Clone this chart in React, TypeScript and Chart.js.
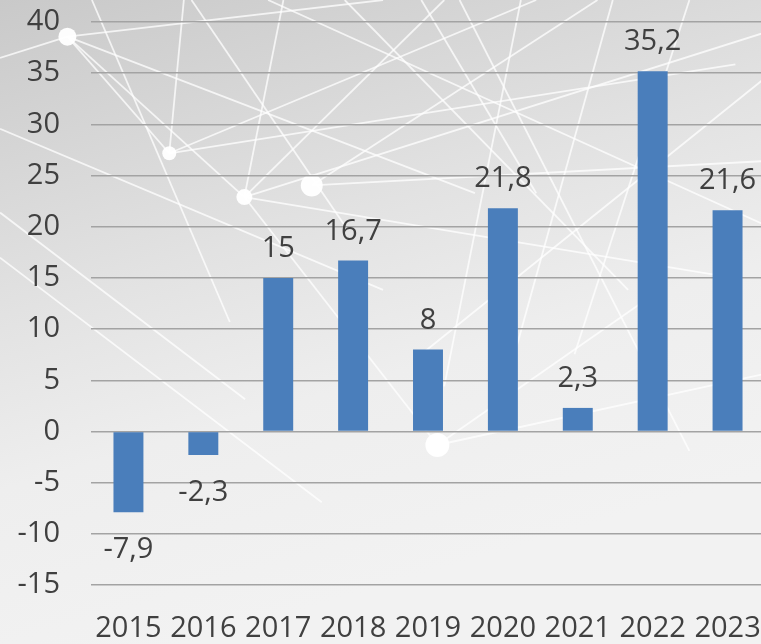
import React, { useEffect, useRef } from "react";
import { Chart, registerables } from "chart.js";

Chart.register(...registerables);

const years = ["2015", "2016", "2017", "2018", "2019", "2020", "2021", "2022", "2023"];
const values = [-7.9, -2.3, 15, 16.7, 8, 21.8, 2.3, 35.2, 21.6];
const yMin = -15;
const yMax = 40;
const yStep = 5;

const FONT = "'Open Sans', 'Noto Sans', sans-serif";
const TEXT = "#404040";
const FS = 29;

// decorative background network (fractions of canvas size)
const netDots = [
  [0.088, 0.057, 9], [0.221, 0.238, 7], [0.319, 0.306, 8], [0.407, 0.288, 11], [0.571, 0.691, 12],
];
const netLines = [
  [0.088, 0.057, 0.5, 0.0], [0.088, 0.057, 0.221, 0.238], [0.088, 0.057, 0.319, 0.306],
  [0.088, 0.057, 0.62, 0.3], [0.088, 0.057, 0.0, 0.09], [0.221, 0.238, 0.7, 0.0],
  [0.221, 0.238, 0.96, 0.1], [0.221, 0.238, 0.24, 0.0], [0.319, 0.306, 1.0, 0.05],
  [0.319, 0.306, 0.95, 0.43], [0.319, 0.306, 0.58, 0.0], [0.319, 0.306, 0.37, 0.0],
  [0.319, 0.306, 0.571, 0.691], [0.407, 0.288, 1.0, 0.25], [0.407, 0.288, 0.78, 0.0],
  [0.571, 0.691, 1.0, 0.58], [0.571, 0.691, 0.85, 0.46], [0.45, 0.0, 0.82, 0.45],
  [0.6, 0.0, 0.9, 0.7], [0.68, 0.0, 0.58, 0.6], [0.8, 0.0, 0.66, 0.6], [0.9, 0.0, 0.75, 0.55],
  [1.0, 0.12, 0.55, 0.55], [0.0, 0.33, 0.32, 0.62], [0.0, 0.4, 0.42, 0.78], [0.12, 0.0, 0.3, 0.5],
  [0.25, 0.0, 0.45, 0.35], [0.55, 0.0, 0.7, 0.3], [0.0, 0.2, 0.5, 0.45], [0.35, 0.0, 1.0, 0.35],
];

const bgPlugin = {
  id: "bg",
  beforeDraw(chart: any) {
    const { ctx, width, height } = chart;
    ctx.save();
    const g = ctx.createLinearGradient(0, 0, width * 0.25, height);
    g.addColorStop(0, "#c9c9c9");
    g.addColorStop(0.45, "#e2e2e2");
    g.addColorStop(0.7, "#eeeeee");
    g.addColorStop(1, "#f2f2f2");
    ctx.fillStyle = g;
    ctx.fillRect(0, 0, width, height);
    ctx.strokeStyle = "rgba(255,255,255,0.75)";
    ctx.lineWidth = 1.8;
    netLines.forEach(([x1, y1, x2, y2]) => {
      ctx.beginPath();
      ctx.moveTo(x1 * width, y1 * height);
      ctx.lineTo(x2 * width, y2 * height);
      ctx.stroke();
    });
    ctx.fillStyle = "rgba(255,255,255,0.95)";
    netDots.forEach(([x, y, r]) => {
      ctx.beginPath();
      ctx.arc(x * width, y * height, r, 0, Math.PI * 2);
      ctx.fill();
    });
    ctx.restore();
  },
};

const labelPlugin = {
  id: "valueLabels",
  afterDatasetsDraw(chart: any) {
    const { ctx } = chart;
    const meta = chart.getDatasetMeta(0);
    ctx.save();
    ctx.font = `${FS}px ${FONT}`;
    ctx.fillStyle = TEXT;
    ctx.textAlign = "center";
    ctx.textBaseline = "alphabetic";
    meta.data.forEach((bar: any, i: number) => {
      const v = values[i];
      const txt = String(v).replace(".", ",");
      const y = v >= 0 ? bar.y - 21 : bar.y + 46;
      ctx.fillText(txt, bar.x, y);
    });
    ctx.restore();
  },
};

export default function App() {
  const ref = useRef<HTMLCanvasElement>(null);
  useEffect(() => {
    if (!ref.current) return;
    const chart = new Chart(ref.current, {
      type: "bar",
      data: {
        labels: years,
        datasets: [
          {
            data: values,
            backgroundColor: "#4a7ebb",
            borderWidth: 0,
            barPercentage: 0.4,
            categoryPercentage: 1,
          },
        ],
      },
      options: {
        responsive: false,
        animation: false,
        devicePixelRatio: 1,
        layout: { padding: { top: 0, right: 1, left: 0, bottom: 0 } },
        plugins: { legend: { display: false }, tooltip: { enabled: false } },
        scales: {
          x: {
            grid: { display: false, drawTicks: false },
            border: { display: false },
            ticks: {
              color: TEXT,
              font: { family: FONT, size: FS },
              maxRotation: 0,
              autoSkip: false,
              padding: 26,
            },
            afterFit(scale: any) {
              scale.height = 59;
              scale.paddingLeft = 0;
              scale.paddingRight = 0;
            },
          },
          y: {
            min: yMin,
            max: yMax,
            grid: { color: "#a3a3a3", lineWidth: 1.5, drawTicks: false },
            border: { display: false },
            ticks: {
              stepSize: yStep,
              color: TEXT,
              font: { family: FONT, size: FS },
              padding: 31,
            },
            afterFit(scale: any) {
              scale.width = 91;
              scale.paddingTop = 22;
              scale.paddingBottom = 0;
            },
          },
        },
      },
      plugins: [bgPlugin, labelPlugin],
    });
    return () => chart.destroy();
  }, []);
  return (
    <div style={{ position: "fixed", left: 0, top: 0, width: 761, height: 644, overflow: "hidden" }}>
      <canvas ref={ref} width={766} height={644} style={{ display: "block" }} />
    </div>
  );
}
